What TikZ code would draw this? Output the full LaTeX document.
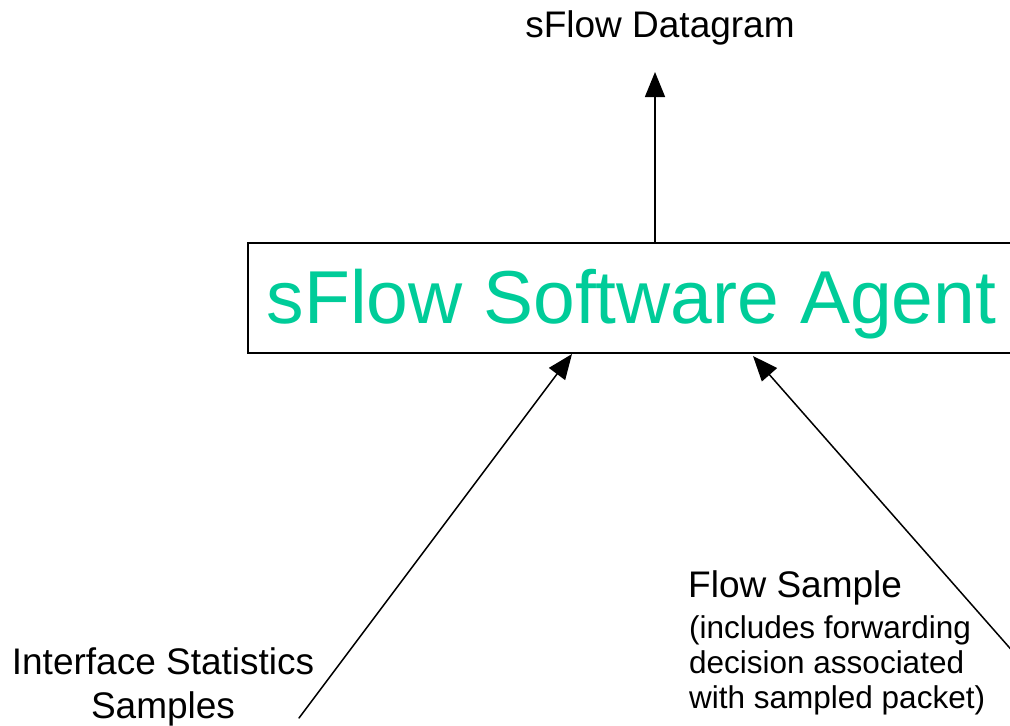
\documentclass[tikz,border=0pt]{standalone}
\usepackage{fontspec}
\setmainfont{Liberation Sans}
\usetikzlibrary{arrows.meta,positioning}
\definecolor{agentgreen}{RGB}{0,204,153}

\begin{document}
\begin{tikzpicture}[x=1pt, y=-1pt, >={Triangle[length=25pt,width=20pt]}, line cap=round,
  label/.style={font=\fontsize{37}{44}\selectfont, inner sep=0pt},
  small/.style={font=\fontsize{31.5}{35}\selectfont, inner sep=0pt}]
\clip (0,0) rectangle (1010,726);
\node [draw, line width=2pt, minimum width=780pt, minimum height=110pt, anchor=west, inner sep=0pt] (agent) at (247,297.5) {};
\node [font=\fontsize{75}{80}\selectfont, text=agentgreen, inner sep=0pt] (agenttext) at (631.5,304.5) {sFlow Software Agent};
\node [label] (dgram) at (660,28) {sFlow Datagram};
\node [label, align=center] (ifstats) at (163,687) {Interface Statistics\\Samples};
\node [label, anchor=west] (flow) at (688,588) {Flow Sample};
\node [small, anchor=north west, align=left] (flowinfo) at (689,615.5) {(includes forwarding\\decision associated\\with sampled packet)};
\coordinate (up) at (655,243);
\coordinate (dgramtip) at (655,72);
\coordinate (ifstart) at (299,718);
\coordinate (iftip) at (572,354);
\coordinate (flowstart) at (1030,671);
\coordinate (flowtip) at (753,356);
\draw [line width=1.5pt, ->] (up) -- (dgramtip);
\draw [line width=1.5pt, ->] (ifstart) -- (iftip);
\draw [line width=1.5pt, ->] (flowstart) -- (flowtip);
\end{tikzpicture}
\end{document}
